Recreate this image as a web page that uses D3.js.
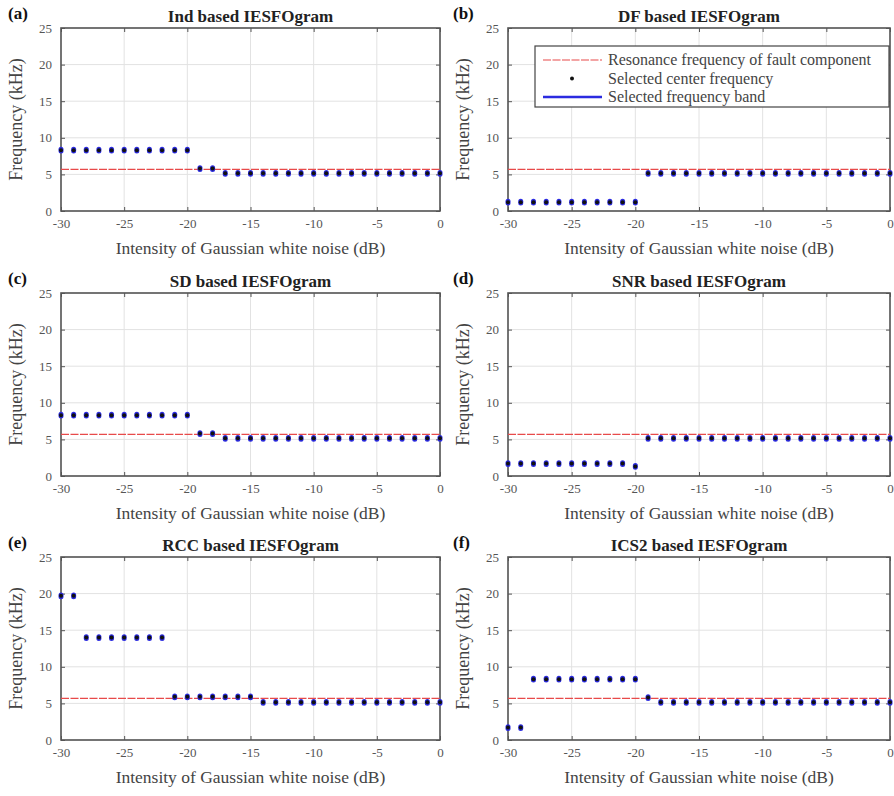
<!DOCTYPE html>
<html>
<head>
<meta charset="utf-8">
<script src="https://cdn.jsdelivr.net/npm/d3@7"></script>
<style>
  body { margin: 0; background: #fff; }
  svg text { font-family: "Liberation Serif", "Times New Roman", serif; }
</style>
</head>
<body>
<script>
// noise levels, -30 .. 0 dB
var noise = d3.range(-30, 1);

var panelLabels = ["(a)", "(b)", "(c)", "(d)", "(e)", "(f)"];
var panelTitles = ["Ind based IESFOgram", "DF based IESFOgram", "SD based IESFOgram",
                   "SNR based IESFOgram", "RCC based IESFOgram", "ICS2 based IESFOgram"];

// selected center frequency (kHz) per noise level
var freqInd  = [8.3,8.3,8.3,8.3,8.3,8.3,8.3,8.3,8.3,8.3,8.3, 5.8,5.8,
                5.15,5.15,5.15,5.15,5.15,5.15,5.15,5.15,5.15,5.15,5.15,5.15,5.15,5.15,5.15,5.15,5.15,5.15];
var freqDF   = [1.2,1.2,1.2,1.2,1.2,1.2,1.2,1.2,1.2,1.2,1.2,
                5.15,5.15,5.15,5.15,5.15,5.15,5.15,5.15,5.15,5.15,5.15,5.15,5.15,5.15,5.15,5.15,5.15,5.15,5.15,5.15];
var freqSD   = [8.3,8.3,8.3,8.3,8.3,8.3,8.3,8.3,8.3,8.3,8.3, 5.8,5.8,
                5.15,5.15,5.15,5.15,5.15,5.15,5.15,5.15,5.15,5.15,5.15,5.15,5.15,5.15,5.15,5.15,5.15,5.15];
var freqSNR  = [1.7,1.7,1.7,1.7,1.7,1.7,1.7,1.7,1.7,1.7, 1.3,
                5.15,5.15,5.15,5.15,5.15,5.15,5.15,5.15,5.15,5.15,5.15,5.15,5.15,5.15,5.15,5.15,5.15,5.15,5.15,5.15];
var freqRCC  = [19.7,19.7, 14,14,14,14,14,14,14, 5.9,5.9,5.9,5.9,5.9,5.9,5.9,
                5.15,5.15,5.15,5.15,5.15,5.15,5.15,5.15,5.15,5.15,5.15,5.15,5.15,5.15,5.15];
var freqICS2 = [1.7,1.7, 8.3,8.3,8.3,8.3,8.3,8.3,8.3,8.3,8.3, 5.8,
                5.15,5.15,5.15,5.15,5.15,5.15,5.15,5.15,5.15,5.15,5.15,5.15,5.15,5.15,5.15,5.15,5.15,5.15,5.15];
var series = [freqInd, freqDF, freqSD, freqSNR, freqRCC, freqICS2];

var resonance = 5.7;      // kHz, fault component
var bandHalf = 0.12;      // kHz, half width of selected band

var xTicks = [-30, -25, -20, -15, -10, -5, 0];
var yTicks = [0, 5, 10, 15, 20, 25];

var legendItems = ["Resonance frequency of fault component", "Selected center frequency", "Selected frequency band"];

var W = 894, H = 796;
var colLeft = [61, 508], colRight = [440, 890], colStart = [8, 453];
var rowTop = [28, 293, 557], plotH = 183;
var serif = "Liberation Serif";

var svg = d3.select("body").append("svg")
    .attr("width", W)
    .attr("height", H);

panelTitles.forEach(function (title, i) {
    var c = i % 2, r = Math.floor(i / 2);
    var w = colRight[c] - colLeft[c];
    var g = svg.append("g")
        .attr("transform", "translate(" + colLeft[c] + "," + rowTop[r] + ")");

    var x = d3.scaleLinear().domain([-30, 0]).range([0, w]);
    var y = d3.scaleLinear().domain([0, 25]).range([plotH, 0]);

    // grid
    g.selectAll(".gx").data(xTicks).enter().append("line")
        .attr("x1", d => x(d)).attr("x2", d => x(d))
        .attr("y1", 0).attr("y2", plotH)
        .attr("stroke", "#e2e2e2").attr("stroke-width", 1);
    g.selectAll(".gy").data(yTicks).enter().append("line")
        .attr("y1", d => y(d)).attr("y2", d => y(d))
        .attr("x1", 0).attr("x2", w)
        .attr("stroke", "#e2e2e2").attr("stroke-width", 1);

    // axes with inward ticks
    var xAx = g.append("g").attr("transform", "translate(0," + plotH + ")")
        .call(d3.axisBottom(x).tickValues(xTicks).tickFormat(d => String(d))
              .tickSizeInner(-4).tickSizeOuter(0).tickPadding(8));
    var yAx = g.append("g")
        .call(d3.axisLeft(y).tickValues(yTicks).tickFormat(d => String(d))
              .tickSizeInner(-4).tickSizeOuter(0).tickPadding(9));
    g.append("g").call(d3.axisTop(x).tickValues(xTicks).tickSizeInner(-4).tickSizeOuter(0).tickFormat(""));
    g.append("g").attr("transform", "translate(" + w + ",0)")
        .call(d3.axisRight(y).tickValues(yTicks).tickSizeInner(-4).tickSizeOuter(0).tickFormat(""));
    g.selectAll(".domain").attr("stroke", "none");
    g.selectAll(".tick line").attr("stroke", "#555");
    [xAx, yAx].forEach(function (a) {
        a.attr("font-family", serif).attr("font-size", 13);
        a.selectAll("text").attr("fill", "#555");
    });

    g.append("rect")
        .attr("width", w).attr("height", plotH)
        .attr("fill", "none").attr("stroke", "#555").attr("stroke-width", 1.6);

    // resonance line
    g.append("line")
        .attr("x1", 0).attr("x2", w)
        .attr("y1", y(resonance)).attr("y2", y(resonance))
        .attr("stroke", "#e84a4a").attr("stroke-width", 1.2)
        .attr("stroke-dasharray", "8,1.5");

    var pts = noise.map((n, k) => ({n: n, f: series[i][k]}));

    // selected band
    g.selectAll(".band").data(pts).enter().append("line")
        .attr("x1", d => x(d.n)).attr("x2", d => x(d.n))
        .attr("y1", d => y(d.f - bandHalf)).attr("y2", d => y(d.f + bandHalf))
        .attr("stroke", "#2b2be0").attr("stroke-width", 5)
        .attr("stroke-linecap", "round");
    // center frequency
    g.selectAll(".dot").data(pts).enter().append("circle")
        .attr("cx", d => x(d.n)).attr("cy", d => y(d.f))
        .attr("r", 2).attr("fill", "#111");

    // labels
    g.append("text")
        .attr("x", w / 2).attr("y", -6)
        .attr("text-anchor", "middle")
        .attr("font-family", serif)
        .attr("font-size", 17).attr("font-weight", "bold").attr("fill", "#222")
        .text(title);
    g.append("text")
        .attr("x", colStart[c] - colLeft[c]).attr("y", -9)
        .attr("font-family", serif)
        .attr("font-size", 17).attr("font-weight", "bold").attr("fill", "#111")
        .text(panelLabels[i]);
    g.append("text")
        .attr("x", w / 2).attr("y", plotH + 43)
        .attr("text-anchor", "middle")
        .attr("font-family", serif)
        .attr("font-size", 17.5).attr("fill", "#444")
        .text("Intensity of Gaussian white noise (dB)");
    g.append("text")
        .attr("transform", "translate(-39," + plotH / 2 + ") rotate(-90)")
        .attr("text-anchor", "middle")
        .attr("font-family", serif)
        .attr("font-size", 18).attr("fill", "#444")
        .text("Frequency (kHz)");

    // legend in panel (b)
    if (i === 1) {
        var lg = g.append("g").attr("transform", "translate(" + (535 - colLeft[c]) + ",18)");
        lg.append("rect")
            .attr("width", 354).attr("height", 61)
            .attr("fill", "#fff").attr("stroke", "#444").attr("stroke-width", 1.2);
        var rows = lg.selectAll(".lrow").data(legendItems).enter().append("g")
            .attr("transform", (d, k) => "translate(0," + (14 + k * 18.5) + ")");
        rows.append("text")
            .attr("x", 73).attr("y", 5)
            .attr("font-family", serif)
            .attr("font-size", 16).attr("fill", "#444")
            .text(d => d);
        lg.append("line").attr("x1", 8).attr("x2", 67).attr("y1", 14).attr("y2", 14)
            .attr("stroke", "#e84a4a").attr("stroke-width", 1.2).attr("stroke-dasharray", "8,1.5");
        lg.append("circle").attr("cx", 37).attr("cy", 32.5).attr("r", 2).attr("fill", "#111");
        lg.append("line").attr("x1", 8).attr("x2", 67).attr("y1", 51).attr("y2", 51)
            .attr("stroke", "#2b2be0").attr("stroke-width", 2.5);
    }
});
</script>
</body>
</html>
